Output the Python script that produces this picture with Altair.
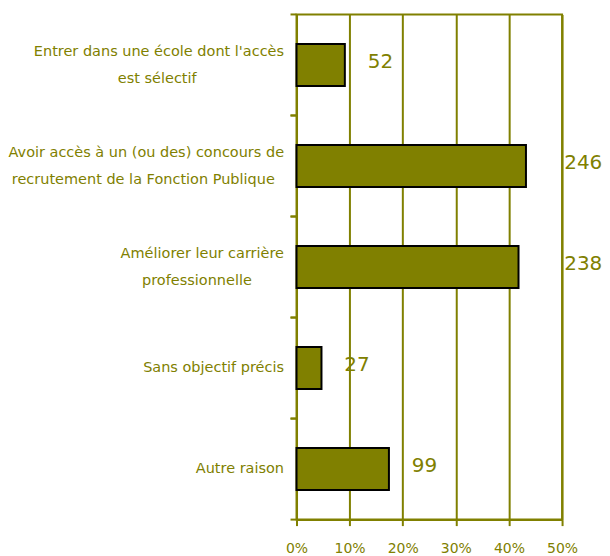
import altair as alt
import pandas as pd

categories = [
    "Entrer dans une école dont l'accès\nest sélectif",
    "Avoir accès à un (ou des) concours de\nrecrutement de la Fonction Publique",
    "Améliorer leur carrière\nprofessionnelle",
    "Sans objectif précis",
    "Autre raison",
]
counts = [52, 246, 238, 27, 99]
shares = [0.091, 0.432, 0.418, 0.047, 0.174]

OLIVE = "#808000"
FONT = "DejaVu Sans"
NBSP = "\u00a0"
ZWSP = "\u200b"

df = pd.DataFrame({"cat": categories, "n": counts, "pct": shares})

base = alt.Chart(df)

ysc = alt.Scale(paddingInner=0, paddingOuter=0)

# centre the shorter second line under the first one (pad it with no-break spaces)
L0 = "split(datum.label, '\\n')[0]"
L1 = "split(datum.label, '\\n')[1]"
label_expr = (
    f"length(split(datum.label, '\\n')) > 1 ? "
    f"[{L0}, pad({L1}, length({L1}) + round((length({L0}) - length({L1})) * 0.85), '{NBSP}') + '{ZWSP}'] "
    f": datum.label"
)

bars = base.mark_bar(color=OLIVE, stroke="black", strokeWidth=2, size=42).encode(
    x=alt.X(
        "pct:Q",
        scale=alt.Scale(domain=[0, 0.5]),
        axis=alt.Axis(
            format=".0%", values=[0, 0.1, 0.2, 0.3, 0.4, 0.5], title=None,
            grid=True, gridColor=OLIVE, gridWidth=2, gridOpacity=1,
            domainColor=OLIVE, domainWidth=2, tickColor=OLIVE, tickWidth=2, tickSize=6,
            labelColor=OLIVE, labelFont=FONT, labelFontSize=14, labelPadding=16,
            labelFlush=False,
        ),
    ),
    y=alt.Y(
        "cat:N", sort=categories, scale=ysc,
        axis=alt.Axis(
            title=None, ticks=False, domainColor=OLIVE, domainWidth=2,
            labelColor=OLIVE, labelFont=FONT, labelFontSize=14.5, labelPadding=13,
            labelLineHeight=27, labelLimit=0,
            labelExpr=label_expr,
            labelOffset=alt.condition(
                "indexof(datum.label, '\\n') >= 0", alt.value(-13), alt.value(0)
            ),
        ),
    ),
)

ticks_top = base.mark_rule(color=OLIVE, strokeWidth=2).encode(
    y=alt.Y("cat:N", sort=categories, scale=ysc, bandPosition=0),
    x=alt.value(-6), x2=alt.value(0),
)
ticks_bot = base.mark_rule(color=OLIVE, strokeWidth=2).encode(
    y=alt.Y("cat:N", sort=categories, scale=ysc, bandPosition=1),
    x=alt.value(-6), x2=alt.value(0),
)

labels = base.transform_calculate(
    labx="datum.pct > 0.4 ? 0.504 : datum.pct + 0.043"
).mark_text(
    align="left", baseline="middle", dy=-3, color=OLIVE, font=FONT, fontSize=20
).encode(
    x="labx:Q",
    y=alt.Y("cat:N", sort=categories, scale=ysc),
    text="n:Q",
)

chart = alt.layer(bars, ticks_top, ticks_bot, labels).properties(
    width=266, height=506,
    autosize=alt.AutoSizeParams(type="none"),
    padding={"left": 289, "top": 6, "right": 40, "bottom": 38},
).configure_view(stroke=OLIVE, strokeWidth=2)

chart.save("out.html", embed_options={"renderer": "svg", "actions": False})
